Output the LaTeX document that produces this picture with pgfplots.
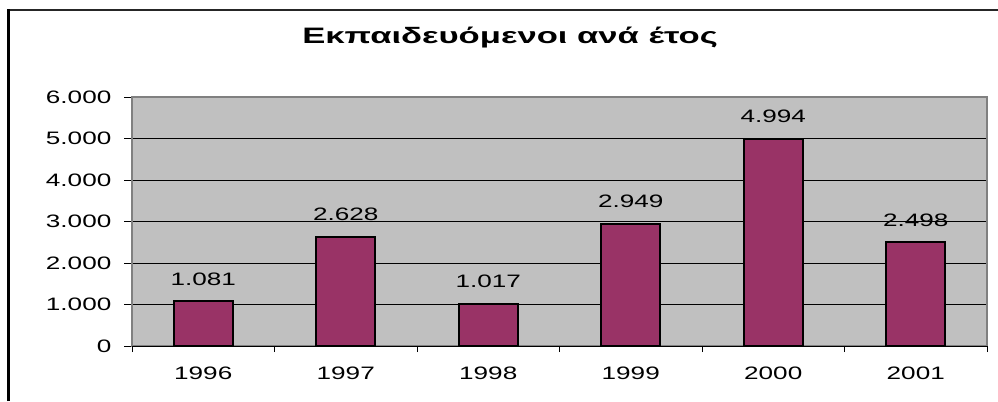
\documentclass[border=0pt]{standalone}
\usepackage{pgfplots}
\pgfplotsset{compat=1.18}
\usepackage{fontspec}
\setmainfont{Liberation Sans}
\newfontfamily\cf[FakeStretch=1.45]{Liberation Sans}
\newfontfamily\tf[FakeStretch=1.55]{Liberation Sans}
\definecolor{barc}{HTML}{993366}
\definecolor{pa}{HTML}{C0C0C0}
\definecolor{bord}{HTML}{808080}
\begin{document}
\begin{tikzpicture}[x=0.75pt,y=0.75pt]
\useasboundingbox (0,0) rectangle (998,401);
\fill[white] (0,0) rectangle (998,401);
\draw[line width=1.1pt, black!85] (8.7,391) -- (998,391);
\draw[line width=2pt] (8.7,0) -- (8.7,391.6);
\node[anchor=base, inner sep=0pt, font=\fontsize{16.75pt}{19pt}\tf\bfseries] at (510,358) {Εκπαιδευόμενοι ανά έτος};
\begin{axis}[
  at={(99pt,41.25pt)}, anchor=south west, scale only axis,
  width=641.25pt, height=186.75pt,
  ybar, bar width=44.25pt,
  xmin=-0.5, xmax=5.5, ymin=0, ymax=6000,
  axis background/.style={fill=pa},
  axis line style={draw=bord, line width=1.1pt},
  tick pos=left, tick align=outside,
  ytick={0,1000,2000,3000,4000,5000,6000},
  ytick style={draw=black, line width=0.75pt},
  major tick length=6pt,
  xtick={0,1,2,3,4,5},
  xticklabels={1996,1997,1998,1999,2000,2001},
  xtick style={draw=none},
  extra x ticks={-0.5,0.5,1.5,2.5,3.5,4.5,5.5},
  extra x tick labels={},
  extra x tick style={xtick style={draw=black, line width=0.75pt}, major tick length=4.5pt, grid=none},
  ymajorgrids, grid style={black, line width=0.75pt},
  /pgf/number format/.cd, 1000 sep={.}, assume math mode=true,
  /pgfplots/.cd,
  tick label style={font=\fontsize{13.5pt}{16pt}\cf},
  yticklabel style={xshift=-6pt},
  xticklabel style={yshift=-6pt},
  nodes near coords,
  every node near coord/.append style={font=\fontsize{13.5pt}{16pt}\cf, anchor=base, yshift=12pt, inner sep=0pt},
]
\addplot[ybar, fill=barc, draw=black, line width=1.5pt] coordinates {(0,1081) (1,2628) (2,1017) (3,2949) (4,4994) (5,2498)};
\draw[black, line width=0.75pt] (rel axis cs:0,0) -- (rel axis cs:1,0);
\end{axis}
\end{tikzpicture}
\end{document}
